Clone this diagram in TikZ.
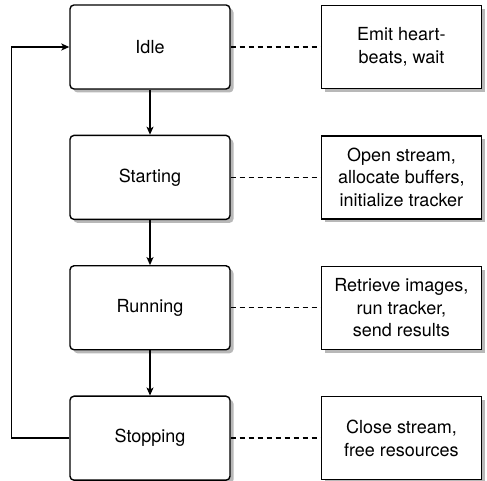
\documentclass[tikz,border=0pt]{standalone}
\usepackage{fontspec}
\setmainfont{TeX Gyre Heros}
\usetikzlibrary{positioning,shadows,arrows.meta}

\tikzset{
	state/.style={draw, rounded corners=4pt, fill=white, minimum width=160pt, minimum height=84pt,
		drop shadow={shadow xshift=3.5pt, shadow yshift=-3.5pt, fill=black!28, opacity=1}},
	note/.style={draw, fill=white, align=center, minimum width=160pt, minimum height=83pt,
		drop shadow={shadow xshift=3.5pt, shadow yshift=-3.5pt, fill=black!28, opacity=1}},
	flow/.style={-{Stealth[length=8pt,width=7pt,inset=2pt]}},
	link/.style={dash pattern=on 5pt off 4pt}
}

\begin{document}
\begin{tikzpicture}[x=1pt, y=1pt, font=\fontsize{18}{22.5}\selectfont, line width=1.4pt]

	\useasboundingbox (0,0) rectangle (487,481);

	% states
	\node[state] (idle) at (150,434) {Idle};
	\node[state, below=45pt of idle] (starting) {Starting};
	\node[state, below=45pt of starting] (running) {Running};
	\node[state, below=45pt of running] (stopping) {Stopping};

	% what each state does
	\node[note, right=90pt of idle] (idlenote) {Emit heart-\\beats, wait};
	\node[note, right=90pt of starting] (startnote) {Open stream,\\allocate buffers,\\initialize tracker};
	\node[note, right=90pt of running] (runnote) {Retrieve images,\\run tracker,\\send results};
	\node[note, right=90pt of stopping] (stopnote) {Close stream,\\free resources};

	% transitions
	\draw[flow] (idle) -- (starting);
	\draw[flow] (starting) -- (running);
	\draw[flow] (running) -- (stopping);
	\draw[flow] (stopping.west) -- ++(-58,0) |- (idle.west);

	\foreach \s/\n in {idle/idlenote, starting/startnote, running/runnote, stopping/stopnote}
		\draw[link] (\s) -- (\n);

\end{tikzpicture}
\end{document}
